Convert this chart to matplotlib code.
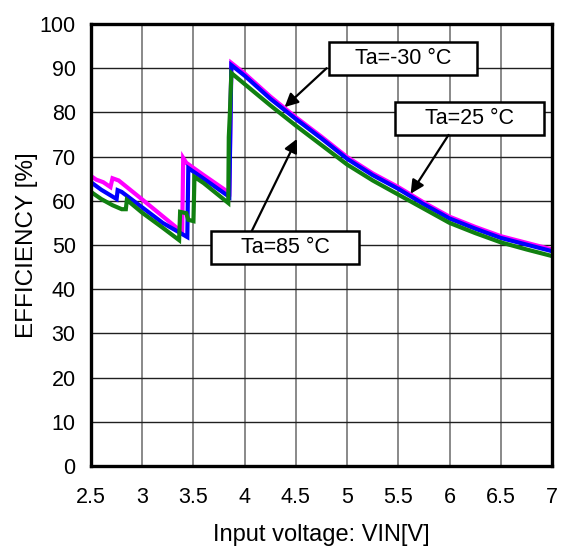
import matplotlib
matplotlib.use("Agg")
from matplotlib import pyplot as plt
from matplotlib.patches import Rectangle

plt.rcParams['font.family'] = ['Liberation Sans', 'DejaVu Sans']

# Efficiency vs input voltage for three ambient temperatures
vin_m30 = [2.50, 2.55, 2.62, 2.69, 2.71, 2.77, 3.00, 3.20, 3.39, 3.40, 3.43, 3.60, 3.85,
           3.87, 4.00, 4.25, 4.50, 4.75, 5.00, 5.25, 5.50, 5.75, 6.00, 6.25, 6.50, 6.75, 7.00]
eff_m30 = [65.6, 64.8, 64.2, 63.1, 65.1, 64.6, 60.3, 56.5, 52.9, 69.7, 68.6, 65.8, 61.8,
           91.2, 88.8, 83.6, 78.9, 74.5, 69.9, 66.2, 63.1, 59.6, 56.4, 54.1, 52.0, 50.5, 49.0]

vin_25 = [2.50, 2.60, 2.75, 2.76, 2.80, 3.00, 3.20, 3.44, 3.45, 3.60, 3.85,
          3.87, 4.00, 4.25, 4.50, 4.75, 5.00, 5.25, 5.50, 5.75, 6.00, 6.25, 6.50, 6.75, 7.00]
eff_25 = [64.2, 62.5, 60.4, 62.4, 62.0, 58.5, 55.0, 51.8, 67.4, 65.0, 60.9,
          90.7, 88.3, 83.1, 78.5, 74.1, 69.5, 65.8, 62.7, 59.2, 56.0, 53.7, 51.6, 50.1, 48.6]

vin_85 = [2.50, 2.60, 2.71, 2.80, 2.84, 2.85, 3.00, 3.20, 3.36, 3.37, 3.43, 3.45, 3.50, 3.51,
          3.60, 3.84, 3.845, 3.855, 3.87, 4.00, 4.25, 4.50, 4.75, 5.00, 5.25, 5.50, 5.75,
          6.00, 6.25, 6.50, 6.75, 7.00]
eff_85 = [62.0, 60.4, 59.0, 58.1, 58.1, 60.2, 57.3, 53.9, 51.1, 57.5, 57.2, 55.7, 55.4, 65.4,
          64.0, 59.5, 74.4, 79.4, 88.9, 86.4, 81.6, 77.0, 72.6, 68.2, 64.6, 61.4, 58.2,
          55.0, 52.7, 50.6, 49.0, 47.5]

x_ticks = [2.5, 3, 3.5, 4, 4.5, 5, 5.5, 6, 6.5, 7]
x_ticklabels = ['2.5', '3', '3.5', '4', '4.5', '5', '5.5', '6', '6.5', '7']
y_ticks = list(range(0, 101, 10))

fig = plt.figure(figsize=(5.64, 5.51), dpi=100)
ax = fig.add_axes([91 / 564, 85 / 551, 461 / 564, 442 / 551])

ax.plot(vin_m30, eff_m30, color='#ff00ff', lw=3, solid_joinstyle='miter', zorder=3)
ax.plot(vin_25, eff_25, color='#0000ff', lw=3, solid_joinstyle='miter', zorder=4)
ax.plot(vin_85, eff_85, color='#108010', lw=3, solid_joinstyle='miter', zorder=5)

ax.set_xlim(2.5, 7)
ax.set_ylim(0, 100)
ax.set_xticks(x_ticks)
ax.set_xticklabels(x_ticklabels)
ax.set_yticks(y_ticks)
ax.tick_params(axis='both', length=0, labelsize=15.5)
ax.tick_params(axis='x', pad=15)
ax.tick_params(axis='y', pad=11)

# dark horizontal grid, lighter vertical grid
ax.grid(axis='y', color='#202020', lw=1.0, zorder=1)
ax.grid(axis='x', color='#808080', lw=1.3, zorder=1)
for s in ax.spines.values():
    s.set_linewidth(2.4)
    s.set_zorder(6)

ax.set_xlabel('Input voltage: VIN[V]', fontsize=17, labelpad=12)
ax.set_ylabel('EFFICIENCY [%]', fontsize=17.5, labelpad=1)

# labelled boxes with arrows pointing at each curve
notes = [
    ('Ta=-30 °C', (4.824, 88.5), (6.27, 95.9), (4.80, 90.0), (4.39, 81.2)),
    ('Ta=25 °C', (5.47, 74.9), (6.92, 82.4), (5.99, 74.9), (5.62, 61.6)),
    ('Ta=85 °C', (3.67, 45.7), (5.12, 53.2), (4.07, 53.2), (4.51, 74.0)),
]
for label, (x0, y0), (x1, y1), start, tip in notes:
    ax.add_patch(Rectangle((x0, y0), x1 - x0, y1 - y0, facecolor='white',
                           edgecolor='black', lw=1.8, zorder=7))
    ax.text((x0 + x1) / 2, (y0 + y1) / 2, label, ha='center', va='center',
            fontsize=15.5, zorder=8)
    ax.annotate('', xy=tip, xytext=start,
                arrowprops=dict(arrowstyle='-|>', color='black', lw=1.6,
                                mutation_scale=20, shrinkA=0, shrinkB=0),
                zorder=8)

fig.savefig('out.png', dpi=100)
